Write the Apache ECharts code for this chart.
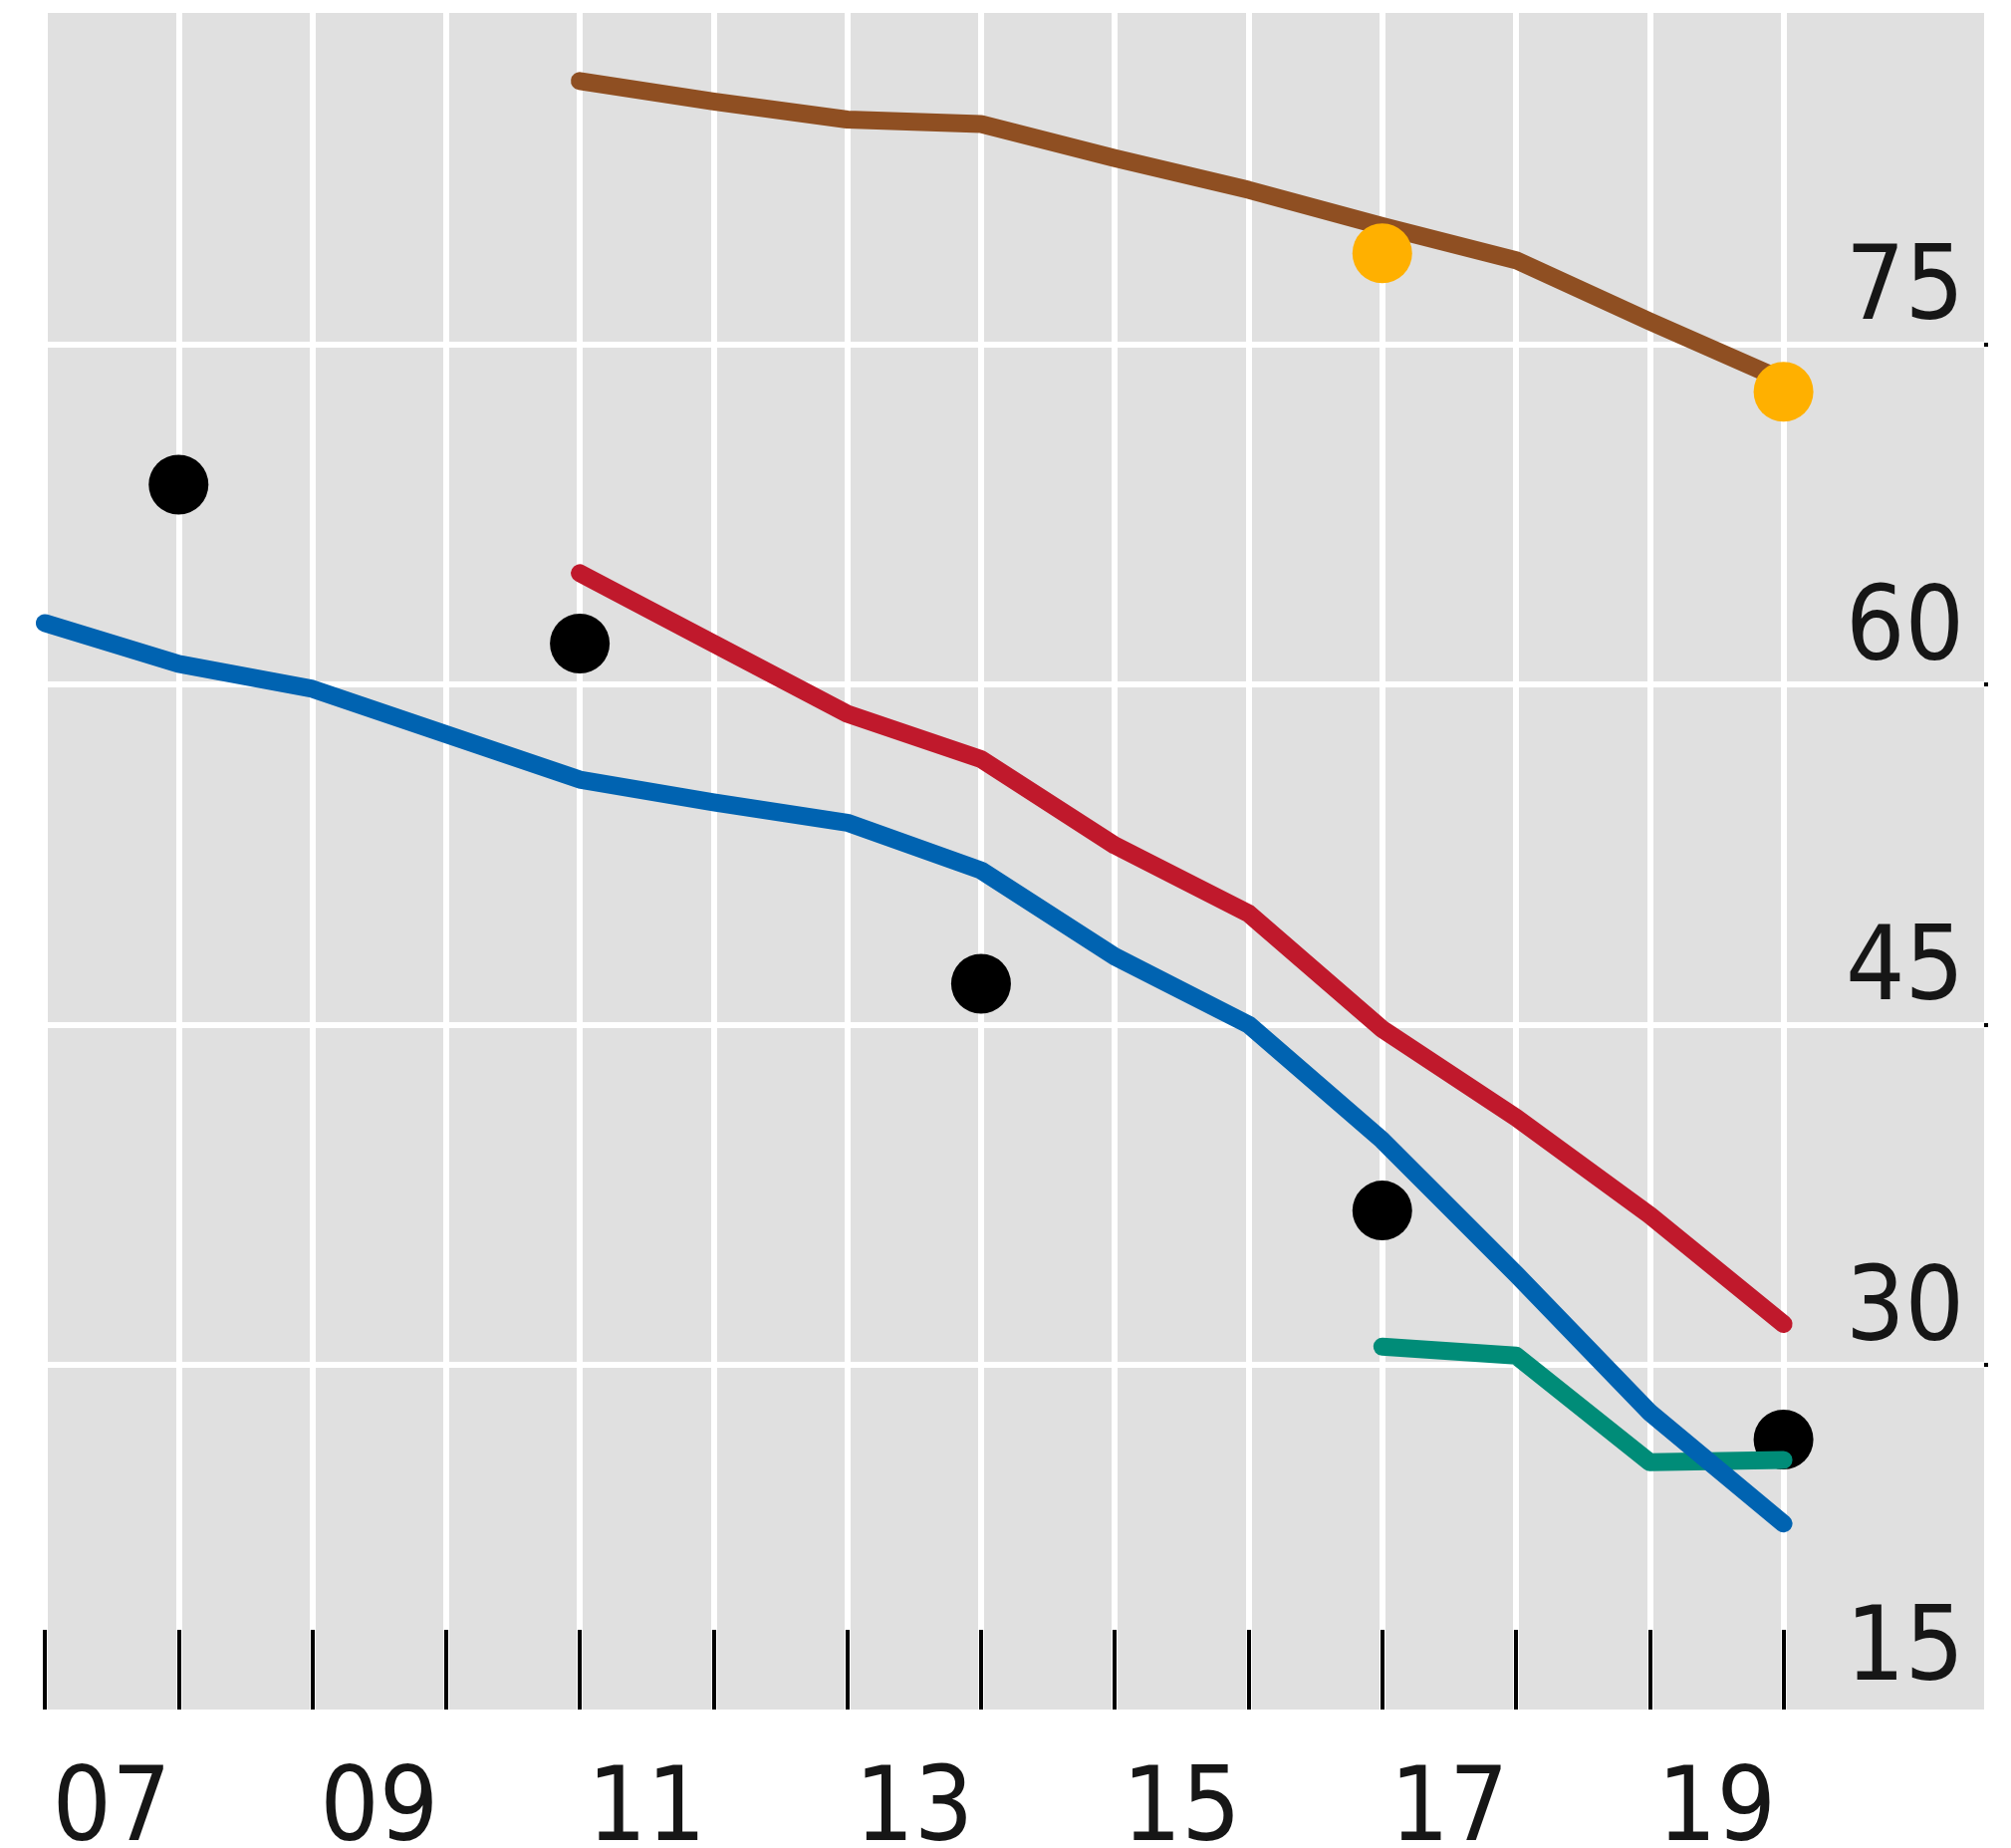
<!DOCTYPE html>
<html>
<head>
<meta charset="utf-8">
<style>
  html, body { margin: 0; padding: 0; background: #ffffff; }
  #chart { width: 2019px; height: 1855px; }
</style>
<script src="https://cdn.jsdelivr.net/npm/echarts@6/dist/echarts.min.js"></script>
</head>
<body>
<div id="chart"></div>
<script>
// ---- data ----
const blueYears  = [2007, 2008, 2009, 2010, 2011, 2012, 2013, 2014, 2015, 2016, 2017, 2018, 2019, 2020];
const blueValues = [62.7, 60.9, 59.8, 57.8, 55.8, 54.8, 53.9, 51.8, 48.0, 45.0, 39.9, 34.0, 27.9, 23.0];

const redYears  = [2011, 2012, 2013, 2014, 2015, 2016, 2017, 2018, 2019, 2020];
const redValues = [64.9, 61.8, 58.7, 56.7, 52.9, 49.9, 44.8, 40.9, 36.6, 31.8];

const brownYears  = [2011, 2012, 2013, 2014, 2015, 2016, 2017, 2018, 2019, 2020];
const brownValues = [86.6, 85.7, 84.9, 84.7, 83.2, 81.8, 80.2, 78.7, 76.0, 73.4];

const greenYears  = [2017, 2018, 2019, 2020];
const greenValues = [30.8, 30.4, 25.7, 25.8];

const blackYears  = [2008, 2011, 2014, 2017, 2020];
const blackValues = [68.8, 61.8, 46.8, 36.8, 26.7];

const orangeYears  = [2017, 2020];
const orangeValues = [79.0, 72.9];

const xTickYears  = [2007, 2008, 2009, 2010, 2011, 2012, 2013, 2014, 2015, 2016, 2017, 2018, 2019, 2020];
const xLabelYears = [2007, 2009, 2011, 2013, 2015, 2017, 2019];
const yTickValues  = [30, 45, 60, 75];
const yLabelValues = [15, 30, 45, 60, 75];

// ---- build ----
const pairs = (xs, ys) => xs.map((x, i) => [x, ys[i]]);
const FONT = "'DejaVu Sans Condensed', 'DejaVu Sans', sans-serif";
const TEXT = '#161616';

const lineSeries = (name, xs, ys, color, z) => ({
  name, type: 'line', data: pairs(xs, ys), symbol: 'none', z,
  lineStyle: { color, width: 18, cap: 'round', join: 'round' },
  emphasis: { disabled: true }, silent: true
});
const dotSeries = (name, xs, ys, color, z) => ({
  name, type: 'scatter', data: pairs(xs, ys), symbol: 'circle', symbolSize: 60, z,
  itemStyle: { color, opacity: 1 }, emphasis: { disabled: true }, silent: true
});

const chart = echarts.init(document.getElementById('chart'), null, { renderer: 'canvas' });
chart.setOption({
  animation: false,
  backgroundColor: '#ffffff',
  grid: { left: 45, top: 13, right: 27, bottom: 139, containLabel: false, outerBoundsMode: 'none',
          show: true, backgroundColor: '#e0e0e0', borderWidth: 0 },
  xAxis: {
    type: 'value', min: 2007, max: 2021.5,
    axisLine: { show: false },
    axisTick: { show: true, inside: true, length: 80, customValues: xTickYears,
                lineStyle: { color: '#000000', width: 4 } },
    splitLine: { show: true, lineStyle: { color: '#ffffff', width: 6 } },
    axisLabel: {
      show: true, customValues: xLabelYears.map(y => y + 0.5),
      formatter: v => String(Math.floor(v)).slice(2),
      fontFamily: FONT, fontSize: 104, color: TEXT, margin: 64, lineHeight: 80
    }
  },
  yAxis: {
    type: 'value', position: 'right', min: 14.8, max: 89.6,
    axisLine: { show: false },
    axisTick: { show: true, length: 4, customValues: yTickValues, lineStyle: { color: '#000000', width: 4 } },
    splitLine: { show: true, lineStyle: { color: '#ffffff', width: 6 } },
    axisLabel: {
      show: true, inside: true, customValues: yLabelValues,
      fontFamily: FONT, fontSize: 104, color: TEXT, margin: 20,
      verticalAlign: 'bottom', lineHeight: 104, padding: [0, 0, 0, 0]
    }
  },
  series: [
    dotSeries('black', blackYears, blackValues, '#000000', 2),
    lineSeries('green', greenYears, greenValues, '#008c78', 3),
    lineSeries('blue', blueYears, blueValues, '#0063b1', 4),
    lineSeries('red', redYears, redValues, '#c0192c', 5),
    lineSeries('brown', brownYears, brownValues, '#8f4f22', 6),
    dotSeries('orange', orangeYears, orangeValues, '#ffb000', 7)
  ]
});
</script>
</body>
</html>
